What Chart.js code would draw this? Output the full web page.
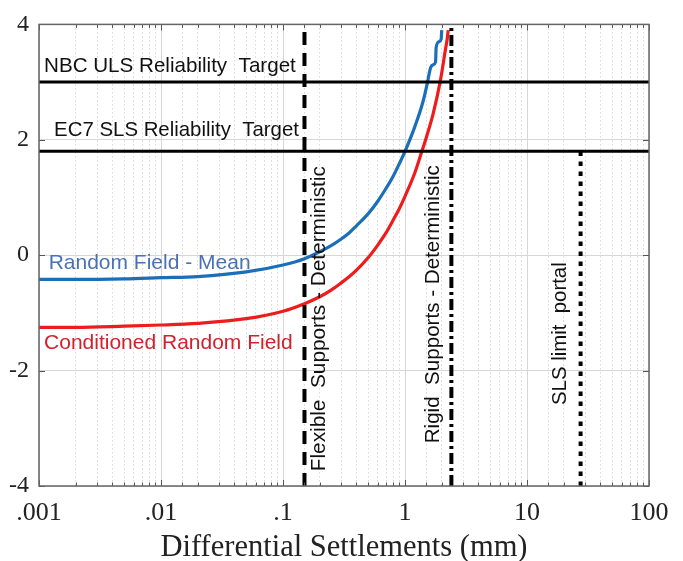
<!DOCTYPE html>
<html><head><meta charset="utf-8">
<script src="https://cdn.jsdelivr.net/npm/chart.js@4.4.0/dist/chart.umd.min.js"></script>
<style>html,body{margin:0;padding:0;background:#fff;}#wrap{width:683px;height:561px;position:relative;}</style>
</head><body><div id="wrap"><canvas id="c" width="683" height="561"></canvas></div>
<script>
// ---- data ----
const meanX = [0.001,0.002,0.005,0.01,0.02,0.05,0.1,0.15,0.2,0.25,0.3,0.35,0.4,0.5,0.6,0.7,0.8,0.9,1.0,1.2,1.4,1.53,1.58,1.62,1.70,1.78,1.80,1.9,1.98,2.0];
const meanY = [-0.42,-0.42,-0.41,-0.39,-0.37,-0.29,-0.17,-0.06,0.06,0.17,0.28,0.39,0.51,0.72,0.94,1.16,1.37,1.59,1.80,2.22,2.65,3.0,3.15,3.25,3.3,3.35,3.6,3.7,3.75,3.9];
const condX = [0.001,0.002,0.005,0.01,0.02,0.05,0.1,0.15,0.2,0.25,0.3,0.35,0.4,0.5,0.6,0.7,0.8,0.9,1.0,1.2,1.36,1.5,1.7,1.94,2.05,2.12,2.18,2.22,2.26];
const condY = [-1.25,-1.25,-1.23,-1.21,-1.18,-1.10,-0.97,-0.84,-0.72,-0.60,-0.48,-0.37,-0.26,-0.04,0.18,0.39,0.61,0.81,1.02,1.42,1.77,2.05,2.45,3.0,3.3,3.5,3.65,3.75,3.9];
const targetNames = ['NBC ULS Reliability  Target', 'EC7 SLS Reliability  Target'];
const targetValues = [3.0, 1.8];
const verticalNames = ['Flexible  Supports - Deterministic', 'Rigid  Supports - Deterministic', 'SLS limit  portal'];
const verticalValues = [0.15, 2.4, 27.5];
const verticalSpans = [[-4, 4], [-4, 4], [-4, 1.8]];
const xTickValues = [0.001, 0.01, 0.1, 1, 10, 100];
const xTickLabels = ['.001', '.01', '.1', '1', '10', '100'];
const yTickValues = [-4, -2, 0, 2, 4];
const yTickLabels = ['-4', '-2', '0', '2', '4'];
const seriesNames = ['Random Field - Mean', 'Conditioned Random Field'];

const toPts = (xs, ys) => xs.map((x, i) => ({x, y: ys[i]}));
const isDecade = v => Math.abs(Math.log10(v) - Math.round(Math.log10(v))) < 1e-6;

const datasets = [];
targetValues.forEach((v, i) => datasets.push({
  label: targetNames[i], data: [{x: 0.001, y: v}, {x: 100, y: v}],
  borderColor: '#000', borderWidth: 3, showLine: true, pointRadius: 0
}));
const dashes = [[13, 8], [11, 4, 3, 4], [4.5, 5.5]];
verticalValues.forEach((v, i) => datasets.push({
  label: verticalNames[i], data: [{x: v, y: verticalSpans[i][0]}, {x: v, y: verticalSpans[i][1]}],
  borderColor: '#000', borderWidth: 4, borderDash: dashes[i], showLine: true, pointRadius: 0,
  borderCapStyle: 'butt'
}));
datasets.push({label: seriesNames[0], data: toPts(meanX, meanY), borderColor: '#1a6fb8', borderWidth: 3.2,
  showLine: true, pointRadius: 0, cubicInterpolationMode: 'monotone'});
datasets.push({label: seriesNames[1], data: toPts(condX, condY), borderColor: '#ee1c1c', borderWidth: 3.2,
  showLine: true, pointRadius: 0, cubicInterpolationMode: 'monotone'});

// text annotations (data coords)
const notes = [
  {text: targetNames[0], x: 0.0011, y: 3.27, color: '#111', size: 20.6, align: 'left'},
  {text: targetNames[1], x: 0.00133, y: 2.17, color: '#111', size: 20.4, align: 'left'},
  {text: seriesNames[0], x: 0.0012, y: -0.14, color: '#4a72b2', size: 21, align: 'left'},
  {text: seriesNames[1], x: 0.0011, y: -1.53, color: '#d4202c', size: 21, align: 'left'},
  {text: verticalNames[0], x: 0.2, y: -1.1, color: '#111', size: 20.8, align: 'center', rot: true},
  {text: verticalNames[1], x: 1.7, y: -0.85, color: '#111', size: 20.6, align: 'center', rot: true},
  {text: verticalNames[2], x: 18.6, y: -1.36, color: '#111', size: 20.4, align: 'center', rot: true}
];

const framePlugin = {
  id: 'frame',
  afterDatasetsDraw(chart) {
    const {ctx, chartArea: a, scales: {x, y}} = chart;
    ctx.save();
    ctx.strokeStyle = '#555'; ctx.lineWidth = 1;
    x.ticks.forEach(t => {
      const px = Math.round(x.getPixelForValue(t.value)) + 0.5;
      const len = isDecade(t.value) ? 6 : 3.5;
      ctx.beginPath();
      ctx.moveTo(px, a.bottom); ctx.lineTo(px, a.bottom - len);
      ctx.moveTo(px, a.top); ctx.lineTo(px, a.top + len);
      ctx.stroke();
    });
    yTickValues.forEach(v => {
      const py = Math.round(y.getPixelForValue(v)) + 0.5;
      ctx.beginPath();
      ctx.moveTo(a.left, py); ctx.lineTo(a.left + 6, py);
      ctx.moveTo(a.right, py); ctx.lineTo(a.right - 6, py);
      ctx.stroke();
    });
    ctx.strokeStyle = '#666'; ctx.lineWidth = 1.5;
    ctx.strokeRect(a.left, a.top, a.right - a.left, a.bottom - a.top);
    notes.forEach(n => {
      const px = x.getPixelForValue(n.x), py = y.getPixelForValue(n.y);
      ctx.save();
      ctx.fillStyle = n.color;
      ctx.font = n.size + 'px "Liberation Sans", Arial, sans-serif';
      ctx.textBaseline = 'middle';
      ctx.textAlign = n.align;
      ctx.translate(px, py);
      if (n.rot) ctx.rotate(-Math.PI / 2);
      ctx.fillText(n.text, 0, 0);
      ctx.restore();
    });
    ctx.restore();
  }
};

new Chart(document.getElementById('c'), {
  type: 'scatter',
  data: {datasets},
  options: {
    responsive: false, animation: false, devicePixelRatio: 1,
    layout: {padding: {top: 22, right: 34, left: 0, bottom: 0}},
    plugins: {legend: {display: false}, tooltip: {enabled: false}},
    scales: {
      x: {
        type: 'logarithmic', min: 0.001, max: 100, position: 'bottom',
        afterFit: s => { s.height = 75; },
        grid: {color: c => (c.tick && isDecade(c.tick.value)) ? '#d6d6d6' : '#c4c4c4', lineWidth: 1, drawTicks: false},
        border: {display: false, dash: c => (c.tick && isDecade(c.tick.value)) ? [] : [1, 3]},
        ticks: {
          autoSkip: false, maxRotation: 0, padding: 12, color: '#222',
          font: {family: '"Liberation Serif", serif', size: 26},
          callback: v => { const i = xTickValues.findIndex(t => Math.abs(Math.log10(t) - Math.log10(v)) < 1e-6); return i >= 0 ? xTickLabels[i] : ''; }
        },
        title: {display: true, text: 'Differential Settlements (mm)', color: '#222',
          font: {family: '"Liberation Serif", serif', size: 30.5}, padding: {top: 4, bottom: -5}}
      },
      y: {
        min: -4, max: 4,
        afterFit: s => { s.width = 39; },
        afterBuildTicks: s => { s.ticks = yTickValues.map(v => ({value: v})); },
        grid: {color: '#d6d6d6', lineWidth: 1, drawTicks: false},
        border: {display: false},
        ticks: {
          padding: 10, color: '#222',
          font: {family: '"Liberation Serif", serif', size: 24},
          callback: v => { const i = yTickValues.indexOf(v); return i >= 0 ? yTickLabels[i] : ''; }
        }
      }
    }
  },
  plugins: [framePlugin]
});
</script></body></html>
